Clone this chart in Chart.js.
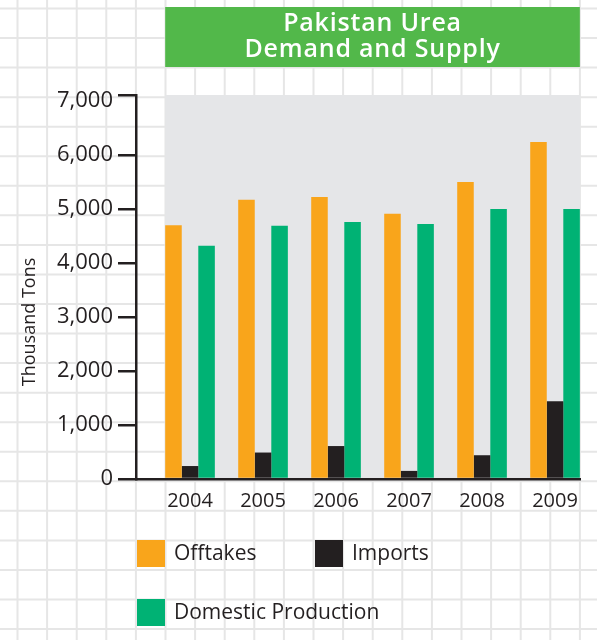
<!DOCTYPE html>
<html>
<head>
<meta charset="utf-8">
<title>Pakistan Urea Demand and Supply</title>
<script src="https://cdn.jsdelivr.net/npm/chart.js@4"></script>
<style>
  body { margin: 0; background: #fff; }
  #wrap { width: 597px; height: 640px; }
</style>
</head>
<body>
<div id="wrap"><canvas id="canvas" width="597" height="640"></canvas></div>
<script>
// chart data (thousand tons)
var years = ['2004', '2005', '2006', '2007', '2008', '2009'];
var offtakes = [4700, 5170, 5220, 4910, 5500, 6240];
var imports = [240, 490, 610, 150, 440, 1440];
var domestic = [4320, 4690, 4760, 4720, 5000, 5000];
var yTicks = [0, 1000, 2000, 3000, 4000, 5000, 6000, 7000];

var ink = '#231f20';
var font = '"Open Sans", "Noto Sans", sans-serif';

function toPoints(arr) {
    return arr.map(function (v, i) { return { x: i, y: v }; });
}

// paper grid, grey panel, green title box, legend, axis title
var decor = {
    id: 'decor',
    beforeDraw: function (chart) {
        var ctx = chart.ctx, area = chart.chartArea;
        ctx.save();
        ctx.fillStyle = '#fff';
        ctx.fillRect(0, 0, chart.width, chart.height);
        ctx.strokeStyle = '#e6e6e6';
        ctx.lineWidth = 2;
        for (var gx = 17.5; gx < chart.width; gx += 29.6) {
            ctx.beginPath(); ctx.moveTo(gx, 0); ctx.lineTo(gx, chart.height); ctx.stroke();
        }
        for (var gy = 8.5; gy < chart.height; gy += 29.55) {
            ctx.beginPath(); ctx.moveTo(0, gy); ctx.lineTo(chart.width, gy); ctx.stroke();
        }
        // panel spans from first bar to last bar
        var first = chart.getDatasetMeta(0).data[0];
        var lastMeta = chart.getDatasetMeta(chart.data.datasets.length - 1);
        var last = lastMeta.data[lastMeta.data.length - 1];
        var left = first.x - first.width / 2;
        var right = last.x + last.width / 2;
        ctx.fillStyle = '#e5e6e8';
        ctx.fillRect(left, area.top, right - left, area.bottom - area.top);

        ctx.fillStyle = '#52b84a';
        ctx.fillRect(left, 7, right - left, 60);
        ctx.fillStyle = '#fff';
        ctx.font = '600 25px ' + font;
        ctx.letterSpacing = '0.8px';
        ctx.textAlign = 'center';
        ctx.textBaseline = 'middle';
        ctx.fillText('Pakistan Urea', (left + right) / 2, 24);
        ctx.fillText('Demand and Supply', (left + right) / 2, 50);
        ctx.restore();
    },
    afterDraw: function (chart) {
        var ctx = chart.ctx;
        ctx.save();
        // y axis title
        ctx.translate(30, 322);
        ctx.rotate(-Math.PI / 2);
        ctx.fillStyle = ink;
        ctx.font = '18px ' + font;
        ctx.textAlign = 'center';
        ctx.textBaseline = 'middle';
        ctx.fillText('Thousand Tons', 0, 0);
        ctx.restore();

        // legend
        var spots = [[137, 540], [315, 540], [137, 599]];
        ctx.save();
        ctx.font = '21px ' + font;
        ctx.textBaseline = 'middle';
        chart.data.datasets.forEach(function (ds, i) {
            var p = spots[i];
            ctx.fillStyle = ds.backgroundColor;
            ctx.fillRect(p[0], p[1], 28, 27);
            ctx.fillStyle = ink;
            ctx.fillText(ds.label, p[0] + 37, p[1] + 14);
        });
        ctx.restore();
    }
};

var ctx = document.getElementById('canvas').getContext('2d');
window.myBar = new Chart(ctx, {
    type: 'bar',
    data: {
        datasets: [{
            label: 'Offtakes',
            backgroundColor: '#f9a51b',
            data: toPoints(offtakes)
        }, {
            label: 'Imports',
            backgroundColor: ink,
            data: toPoints(imports)
        }, {
            label: 'Domestic Production',
            backgroundColor: '#00b274',
            data: toPoints(domestic)
        }]
    },
    plugins: [decor],
    options: {
        responsive: false,
        animation: false,
        layout: { padding: { top: 95, right: 17, bottom: 131, left: 0 } },
        datasets: { bar: { categoryPercentage: 0.68, barPercentage: 1 } },
        plugins: {
            legend: { display: false },
            title: { display: false },
            tooltip: { enabled: false }
        },
        scales: {
            x: {
                type: 'linear',
                offset: false,
                min: -0.74,
                max: 5.342,
                afterFit: function (scale) { scale.height = 30; },
                grid: { display: false, drawTicks: false },
                border: { display: true, color: ink, width: 2.5 },
                ticks: {
                    stepSize: 1,
                    includeBounds: false,
                    color: ink,
                    padding: 10,
                    font: { family: font, size: 20 },
                    callback: function (v) { return years[v] !== undefined ? years[v] : ''; }
                }
            },
            y: {
                min: 0,
                max: 7110,
                afterFit: function (scale) { scale.width = 136; },
                afterBuildTicks: function (scale) {
                    scale.ticks = yTicks.map(function (v) { return { value: v }; });
                    scale.ticks.push({ value: scale.max });
                },
                grid: {
                    drawOnChartArea: false,
                    tickLength: 18,
                    lineWidth: 2.5,
                    color: function (c) {
                        return c.tick && c.tick.value === 7000 ? 'rgba(0,0,0,0)' : ink;
                    }
                },
                border: { display: true, color: ink, width: 2.5 },
                ticks: {
                    color: ink,
                    padding: 5,
                    font: { family: font, size: 22 },
                    callback: function (v) { return yTicks.indexOf(v) >= 0 ? v.toLocaleString('en-US') : ''; }
                }
            }
        }
    }
});
</script>
</body>
</html>
